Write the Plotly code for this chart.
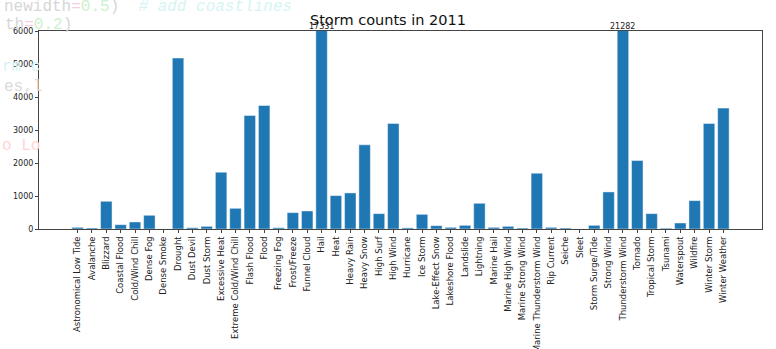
import plotly.graph_objects as go

categories = [
    "Astronomical Low Tide", "Avalanche", "Blizzard", "Coastal Flood", "Cold/Wind Chill",
    "Dense Fog", "Dense Smoke", "Drought", "Dust Devil", "Dust Storm", "Excessive Heat",
    "Extreme Cold/Wind Chill", "Flash Flood", "Flood", "Freezing Fog", "Frost/Freeze",
    "Funnel Cloud", "Hail", "Heat", "Heavy Rain", "Heavy Snow", "High Surf", "High Wind",
    "Hurricane", "Ice Storm", "Lake-Effect Snow", "Lakeshore Flood", "Landslide", "Lightning",
    "Marine Hail", "Marine High Wind", "Marine Strong Wind", "Marine Thunderstorm Wind",
    "Rip Current", "Seiche", "Sleet", "Storm Surge/Tide", "Strong Wind", "Thunderstorm Wind",
    "Tornado", "Tropical Storm", "Tsunami", "Waterspout", "Wildfire", "Winter Storm",
    "Winter Weather",
]
counts = [
    50, 30, 840, 131, 213,
    415, 2, 5180, 40, 81, 1720,
    627, 3441, 3744, 40, 496,
    546, 17331, 1012, 1093, 2550, 466, 3198,
    35, 445, 101, 50, 111, 779,
    50, 81, 30, 1690,
    50, 30, 2, 111, 1123, 21282,
    2075, 466, 25, 182, 860, 3198,
    3663,
]
y_max = 6000
y_ticks = [0, 1000, 2000, 3000, 4000, 5000, 6000]
title_text = "Storm counts in 2011"

W, H = 776, 349
L, R, T, B = 39, 14, 31, 120
PW, PH = W - L - R, H - T - B

fig = go.Figure()
fig.add_trace(go.Bar(
    x=categories, y=counts,
    marker=dict(color="#1f77b4", line=dict(color="rgba(255,255,255,0.45)", width=1)),
    hoverinfo="x+y",
))

annotations = []
for c, v in zip(categories, counts):
    if v > y_max:
        annotations.append(dict(
            x=c, y=y_max, xref="x", yref="y", text=str(v), showarrow=False,
            yanchor="bottom", xanchor="center", yshift=-2,
            font=dict(family="DejaVu Sans", size=8, color="#222"),
        ))

# faint background code visible through the transparent figure margins
ghost_font = dict(family="Liberation Mono", size=16)
ghost = [
    ("newidth<span style='color:#f7cde9'>=</span><span style='color:#cdf1cd'>0.5</span>)  "
     "<span style='color:#d6f4f4'><i># add coastlines</i></span>", 2, 7, "#d6d6d6"),
    ("th<span style='color:#f7cde9'>=</span><span style='color:#cdf1cd'>0.2</span>)", 3, 25, "#d6d6d6"),
    ("rm c", 0, 67, "#d6f4f4"),
    ("es,l", 2, 87, "#dadada"),
    ("o Lo", 0, 146, "#ffd4d4"),
]
for txt, gx, gy, col in ghost:
    annotations.append(dict(
        x=(gx - L) / PW, y=(H - B - gy) / PH, xref="paper", yref="paper", text=txt,
        showarrow=False, xanchor="left", yanchor="middle",
        font=dict(color=col, **ghost_font),
    ))

fig.update_layout(
    width=W, height=H,
    margin=dict(l=L, r=R, t=T, b=B, pad=0, autoexpand=False),
    paper_bgcolor="white", plot_bgcolor="white",
    bargap=0.2,
    showlegend=False,
    title=dict(text=title_text, x=0.5, xanchor="center", y=1 - 20 / H, yanchor="middle",
               font=dict(family="DejaVu Sans", size=14.5, color="#111")),
    annotations=annotations,
    font=dict(family="DejaVu Sans", color="#222"),
)
fig.update_xaxes(
    type="category", range=[-2.69, 47.69], tickangle=-90, automargin=False,
    showline=True, linecolor="#444", linewidth=1, mirror=True,
    ticks="outside", ticklen=3, tickcolor="#444", showgrid=False,
    tickfont=dict(family="DejaVu Sans", size=8.5, color="#222"),
)
fig.update_yaxes(
    range=[0, y_max], tickvals=y_ticks, automargin=False,
    showline=True, linecolor="#444", linewidth=1, mirror=True,
    ticks="outside", ticklen=3, tickcolor="#444", showgrid=False, zeroline=False,
    tickfont=dict(family="DejaVu Sans", size=8, color="#222"),
)

fig.write_html("out.html")
